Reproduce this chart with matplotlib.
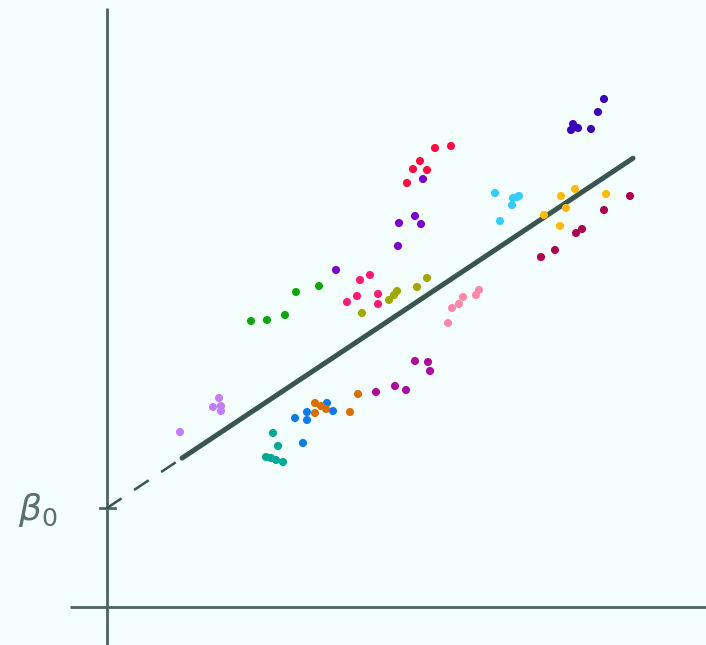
import matplotlib.pyplot as plt

# Grouped observations (x, y) per cluster
lavender_x = [7.3, 10.6, 11.2, 11.4, 11.4]
lavender_y = [17.5, 20.0, 20.9, 20.1, 19.6]
teal_x = [16.6, 17.1, 15.9, 16.4, 16.9, 17.6]
teal_y = [17.4, 16.1, 15.0, 14.9, 14.7, 14.5]
blue_x = [18.8, 20.0, 20.0, 22.0, 22.6, 19.6]
blue_y = [18.9, 19.5, 18.7, 20.4, 19.6, 16.4]
orange_x = [20.8, 21.4, 21.9, 20.8, 24.3, 25.1]
orange_y = [20.4, 20.1, 19.8, 19.4, 19.5, 21.3]
magenta_x = [26.9, 28.8, 29.9, 30.8, 32.1, 32.3]
magenta_y = [21.5, 22.1, 21.7, 24.6, 24.5, 23.6]
green_x = [14.4, 16.0, 17.8, 18.9, 21.2]
green_y = [28.6, 28.7, 29.2, 31.5, 32.1]
pink_x = [24.0, 25.0, 25.3, 26.3, 27.1, 27.1]
pink_y = [30.5, 31.1, 32.7, 33.2, 31.3, 30.3]
olive_x = [25.5, 28.2, 28.7, 29.0, 31.0, 32.0]
olive_y = [29.4, 30.7, 31.2, 31.6, 32.0, 32.9]
rose_x = [34.1, 34.5, 35.2, 35.6, 36.9, 37.2]
rose_y = [28.4, 29.9, 30.3, 31.0, 31.2, 31.7]
red_x = [32.8, 34.4, 31.3, 30.6, 32.0, 30.0]
red_y = [45.9, 46.1, 44.6, 43.8, 43.7, 42.4]
purple_x = [22.9, 31.6, 30.8, 29.2, 31.4, 29.1]
purple_y = [33.7, 42.8, 39.1, 38.4, 38.3, 36.1]
cyan_x = [38.8, 40.6, 41.2, 41.0, 40.5, 39.3]
cyan_y = [41.4, 40.9, 41.1, 41.0, 40.2, 38.6]
yellow_x = [43.7, 45.4, 46.8, 45.9, 45.3, 49.9]
yellow_y = [39.2, 41.1, 41.8, 39.9, 38.1, 41.3]
crimson_x = [43.4, 44.8, 46.9, 47.5, 49.7, 52.3]
crimson_y = [35.0, 35.7, 37.4, 37.8, 39.7, 41.1]
indigo_x = [49.7, 49.1, 46.6, 46.4, 47.1, 48.4]
indigo_y = [50.8, 49.5, 48.3, 47.7, 47.9, 47.8]

groups = [
    (lavender_x, lavender_y, '#c47cff'),
    (teal_x, teal_y, '#00a896'),
    (blue_x, blue_y, '#0a7bea'),
    (orange_x, orange_y, '#d96e00'),
    (magenta_x, magenta_y, '#ad0a9c'),
    (green_x, green_y, '#0da60d'),
    (pink_x, pink_y, '#ff1a78'),
    (olive_x, olive_y, '#9ea800'),
    (rose_x, rose_y, '#ff88a8'),
    (red_x, red_y, '#ff0a3f'),
    (purple_x, purple_y, '#7a00cc'),
    (cyan_x, cyan_y, '#33ccff'),
    (yellow_x, yellow_y, '#ffbb00'),
    (crimson_x, crimson_y, '#ad0050'),
    (indigo_x, indigo_y, '#3a00b8'),
]

# Fitted line
beta0 = 9.9
slope = 0.665
x_start = 7.5
x_end = 52.6

bg = '#f4fffd'
axis_col = '#4b6562'
line_col = '#3a5450'

fig = plt.figure(figsize=(7.06, 6.45), dpi=100, facecolor=bg)
ax = fig.add_axes([0, 0, 1, 1])
ax.set_facecolor(bg)
ax.set_xlim(-10.7, 59.9)
ax.set_ylim(-3.8, 60.7)
ax.axis('off')

# axes drawn as plain lines
ax.plot([0, 0], [-3.8, 59.9], color=axis_col, lw=2, solid_capstyle='butt')
ax.plot([-3.7, 59.9], [0, 0], color=axis_col, lw=2, solid_capstyle='butt')
ax.plot([-0.7, 0.8], [beta0, beta0], color=axis_col, lw=2)
ax.text(-6.9, beta0 - 0.2, r'$\beta_0$', fontsize=26, color='#56706c',
        ha='center', va='center')

for xs, ys, c in groups:
    ax.scatter(xs, ys, s=34, color=c, edgecolors='none', zorder=3)

ax.plot([0, x_start], [beta0, beta0 + slope * x_start], color=line_col,
        lw=1.8, dashes=(7, 6))
ax.plot([x_start, x_end], [beta0 + slope * x_start, beta0 + slope * x_end],
        color=line_col, lw=3.6, solid_capstyle='round', zorder=2)

plt.savefig('out.png', dpi=100, facecolor=bg)
